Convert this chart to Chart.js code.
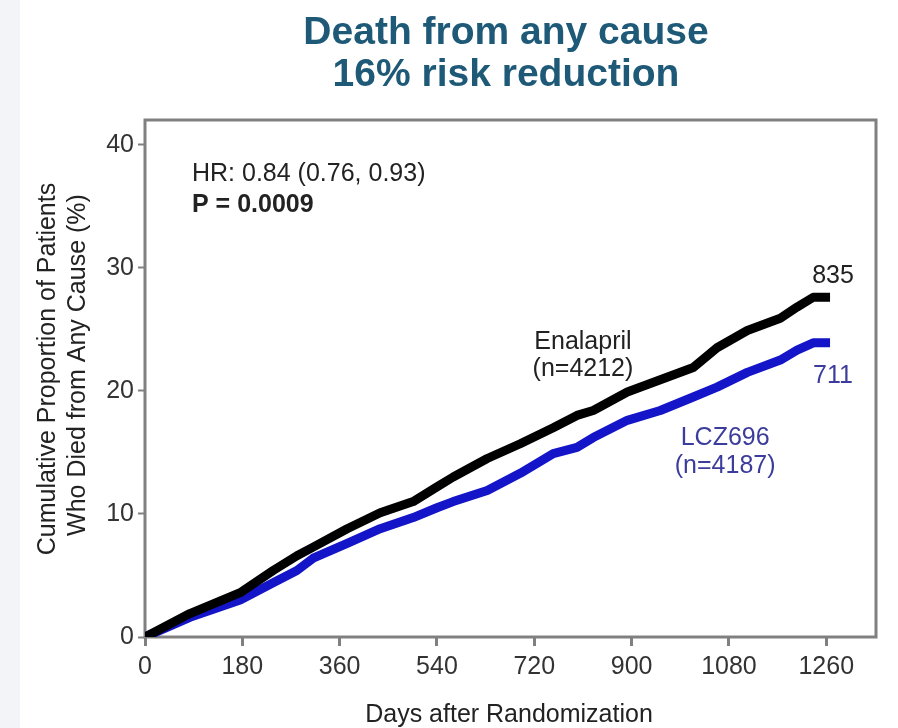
<!DOCTYPE html>
<html>
<head>
<meta charset="utf-8">
<script src="https://cdn.jsdelivr.net/npm/chart.js@4"></script>
<style>
  html, body {
    margin: 0;
    padding: 0;
    background: linear-gradient(to right, #f2f4f8 0, #f2f4f8 20px, #ffffff 20px);
  }
  #km {
    display: block;
  }
</style>
</head>
<body>
<canvas id="km" width="898" height="728"></canvas>
<script>
// Kaplan-Meier cumulative mortality, days after randomization
const days = [0, 83, 176, 237, 281, 311, 374, 435, 496, 540, 570, 633, 694, 755, 799, 829, 892, 953, 1014, 1058, 1114, 1175, 1206, 1236, 1267];
const enalapril = [0, 1.9, 3.6, 5.4, 6.6, 7.3, 8.8, 10.1, 11.0, 12.2, 13.0, 14.5, 15.7, 17.0, 18.0, 18.4, 19.9, 20.9, 21.9, 23.5, 24.9, 25.9, 26.8, 27.6, 27.6];
const lcz696 = [0, 1.6, 3.0, 4.4, 5.4, 6.4, 7.6, 8.8, 9.7, 10.5, 11.0, 11.9, 13.3, 14.9, 15.4, 16.2, 17.6, 18.4, 19.5, 20.3, 21.5, 22.5, 23.3, 23.9, 23.9];

const xTicks = [0, 180, 360, 540, 720, 900, 1080, 1260];
const yTicks = [0, 10, 20, 30, 40];

const titleLines = ['Death from any cause', '16% risk reduction'];
const yTitleLines = ['Cumulative Proportion of Patients', 'Who Died from Any Cause (%)'];
const xTitle = 'Days after Randomization';
const hrText = 'HR: 0.84 (0.76, 0.93)';
const pText = 'P = 0.0009';
const events = { enalapril: '835', lcz696: '711' };

const FONT = '"Liberation Sans", Arial, sans-serif';
const BLUE = '#1414c8';
const LABEL_BLUE = '#3c3c9c';

const toPoints = (ys) => days.map((d, i) => ({ x: d, y: ys[i] }));

// box around the plot + all the free text
const decorations = {
  id: 'decorations',
  beforeDatasetsDraw(chart) {
    const { ctx, chartArea: a } = chart;
    ctx.save();
    ctx.strokeStyle = '#808080';
    ctx.lineWidth = 3;
    ctx.strokeRect(a.left, a.top, a.right - a.left, a.bottom - a.top);
    ctx.restore();
  },
  afterDraw(chart) {
    const { ctx } = chart;
    const xs = chart.scales.x;
    const ys = chart.scales.y;
    const last = days.length - 1;

    ctx.save();
    // title
    ctx.fillStyle = '#1e5a78';
    ctx.font = 'bold 39px ' + FONT;
    ctx.textAlign = 'center';
    ctx.textBaseline = 'alphabetic';
    ctx.fillText(titleLines[0], 506, 44);
    ctx.fillText(titleLines[1], 506, 86);

    // axis titles
    ctx.fillStyle = '#222';
    ctx.font = '25px ' + FONT;
    ctx.fillText(xTitle, 509, 722);
    ctx.save();
    ctx.translate(0, 369);
    ctx.rotate(-Math.PI / 2);
    ctx.textBaseline = 'middle';
    ctx.fillText(yTitleLines[0], 0, 48);
    ctx.fillText(yTitleLines[1], 4, 78);
    ctx.restore();

    // stats
    ctx.textAlign = 'left';
    ctx.fillText(hrText, 192, 181);
    ctx.font = 'bold 25px ' + FONT;
    ctx.fillText(pText, 192, 212);

    // curve labels
    ctx.font = '25px ' + FONT;
    ctx.textAlign = 'center';
    const ex = xs.getPixelForValue(days[last]);
    ctx.fillStyle = '#222';
    ctx.fillText(events.enalapril, ex + 3, ys.getPixelForValue(enalapril[last]) - 14);
    ctx.fillText('Enalapril', xs.getPixelForValue(810), ys.getPixelForValue(23.4));
    ctx.fillText('(n=4212)', xs.getPixelForValue(810), ys.getPixelForValue(21.2));
    ctx.fillStyle = LABEL_BLUE;
    ctx.fillText(events.lcz696, ex + 3, ys.getPixelForValue(lcz696[last]) + 40);
    ctx.fillText('LCZ696', xs.getPixelForValue(1073), ys.getPixelForValue(15.6));
    ctx.fillText('(n=4187)', xs.getPixelForValue(1073), ys.getPixelForValue(13.3));
    ctx.restore();
  }
};

new Chart(document.getElementById('km'), {
  type: 'line',
  data: {
    datasets: [
      {
        label: 'Enalapril',
        data: toPoints(enalapril),
        borderColor: '#000000',
        borderWidth: 9,
        borderJoinStyle: 'round',
        pointRadius: 0,
        tension: 0
      },
      {
        label: 'LCZ696',
        data: toPoints(lcz696),
        borderColor: BLUE,
        borderWidth: 9,
        borderJoinStyle: 'round',
        pointRadius: 0,
        tension: 0
      }
    ]
  },
  options: {
    responsive: false,
    devicePixelRatio: 1,
    animation: false,
    layout: { padding: { top: 120, right: 22, bottom: 41, left: 100 } },
    plugins: {
      legend: { display: false },
      title: { display: false },
      tooltip: { enabled: false }
    },
    scales: {
      x: {
        type: 'linear',
        min: 0,
        max: 1352,
        afterBuildTicks: (s) => { s.ticks = xTicks.map(v => ({ value: v })); },
        afterFit: (s) => { s.height = 50; },
        border: { display: false },
        grid: {
          drawOnChartArea: false,
          drawTicks: true,
          tickLength: 9,
          tickWidth: 3,
          color: '#808080'
        },
        ticks: {
          padding: 6,
          maxRotation: 0,
          autoSkip: false,
          color: '#333',
          font: { family: FONT, size: 25 },
          callback: (v) => String(v)
        }
      },
      y: {
        min: 0,
        max: 42,
        afterBuildTicks: (s) => { s.ticks = yTicks.map(v => ({ value: v })); },
        afterFit: (s) => { s.width = 45; },
        border: { display: false },
        grid: {
          drawOnChartArea: false,
          drawTicks: true,
          tickLength: 7,
          tickWidth: 2,
          color: '#808080'
        },
        ticks: {
          padding: 4,
          color: '#333',
          font: { family: FONT, size: 25 },
          callback: (v) => String(v)
        }
      }
    }
  },
  plugins: [decorations]
});
</script>
</body>
</html>
